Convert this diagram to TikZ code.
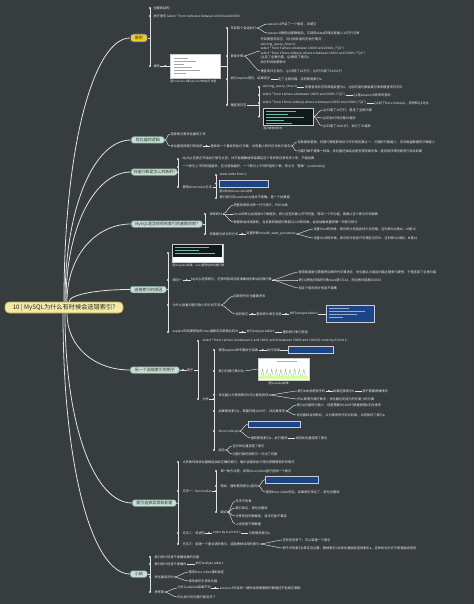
\documentclass[tikz,border=0pt]{standalone}
\usepackage{fontspec}
\setmainfont{Noto Sans CJK SC}
\usetikzlibrary{positioning,calc}

\definecolor{sfondo}{RGB}{55,60,62}
\definecolor{lineacol}{RGB}{226,226,226}
\definecolor{testo}{RGB}{236,236,236}
\definecolor{radfill}{RGB}{244,234,166}
\definecolor{radbordo}{RGB}{190,172,88}
\definecolor{giallo}{RGB}{242,208,22}
\definecolor{selblu}{RGB}{50,80,196}
\definecolor{ramofill}{RGB}{198,222,212}
\definecolor{ramobordo}{RGB}{118,158,144}
\definecolor{immblu}{RGB}{28,68,136}
\definecolor{immscura}{RGB}{14,26,28}
\definecolor{codice}{RGB}{110,190,170}

\newcommand{\conpunto}[2]{\draw[filo] (#1.east) -- (#2.west);
  \fill[lineacol] ($(#1.east)!.5!(#2.west)$) circle (1.1pt);}
\newcommand{\contratto}[2]{\draw[filo] (#1.east) -- (#2.west);}
\newcommand{\graffa}[2]{\foreach \n in {#2}
  \draw[filo] (#1.east) .. controls +(3.5,0) and +(-3.5,0) .. (\n.west);}
\newcommand{\spina}[3]{\draw[filo] (#1.east) -- (#2);
  \foreach \n in {#3} {\draw[filo] (#2) -- (#2 |- \n.west);
    \fill[lineacol] (#2 |- \n.west) circle (1.1pt);}}

\begin{document}
\begin{tikzpicture}[x=1pt, y=-1pt,
    radice/.style={draw=radbordo, fill=radfill, line width=0.6pt, rounded corners=4pt,
      minimum width=118pt, minimum height=11pt, inner sep=0pt, text=black!85,
      font=\fontsize{6.2}{7}\selectfont},
    ramo/.style={anchor=west, draw=ramobordo, fill=ramofill, line width=0.5pt,
      rounded corners=2.5pt, minimum height=6.5pt, inner xsep=2pt, inner ysep=0.5pt,
      text=black!80, font=\fontsize{4}{4.6}\selectfont},
    foglia/.style={anchor=west, inner sep=0.3pt, text=testo, font=\fontsize{3.2}{3.8}\selectfont},
    didasc/.style={foglia, font=\fontsize{2.8}{3.2}\selectfont},
    blocco/.style={foglia, align=left, font=\fontsize{3.2}{4.5}\selectfont},
    imm/.style={anchor=west, draw=white!80!black, line width=0.3pt, inner sep=0pt},
    filo/.style={draw=lineacol, line width=0.45pt},
    tronco/.style={draw=lineacol, line width=0.8pt}]

\useasboundingbox (0,0) rectangle (474,604);
\fill[sfondo] (0,0) rectangle (474,604);

% Radice e rami
\node[radice] (R) at (64,307.5) {10 | MySQL为什么有时候会选错索引?};
\node[ramo, draw=selblu, fill=giallo, line width=0.9pt, minimum width=17pt, minimum height=8pt] (A) at (130,38) {案例};
\node[ramo, minimum width=33pt] (B) at (131,140) {优化器的逻辑};
\node[ramo, minimum width=45pt] (C) at (131,172) {扫描行数是怎么判断的?};
\node[ramo, minimum width=71pt] (D) at (131,224) {MySQL是怎样得到索引的基数的呢?};
\node[ramo, minimum width=36pt] (E) at (130,289.5) {选错索引的原因};
\node[ramo, minimum width=49pt] (F) at (130,370) {另一个选错索引的例子};
\node[ramo, minimum width=44pt] (G) at (132,503) {索引选择异常和处理};
\node[ramo, minimum width=17pt] (H) at (130,574) {小结};

\draw[tronco] (R.north) .. controls +(0,-160) and +(-35,0) .. (A.west);
\draw[tronco] ([xshift=1pt]R.north) .. controls +(0,-97) and +(-36,0) .. (B.west);
\draw[tronco] ([xshift=2pt]R.north) .. controls +(0,-77) and +(-35,0) .. (C.west);
\draw[tronco] ([xshift=3pt]R.north) .. controls +(0,-46) and +(-35,0) .. (D.west);
\draw[tronco] ([xshift=5pt]R.north) .. controls +(0,-7) and +(-33,0) .. (E.west);
\draw[tronco] ([xshift=3pt]R.south) .. controls +(0,34) and +(-35,0) .. (F.west);
\draw[tronco] ([xshift=1pt]R.south) .. controls +(0,114) and +(-37,0) .. (G.west);
\draw[tronco] ([xshift=-1pt]R.south) .. controls +(0,157) and +(-37,0) .. (H.west);

% Ramo A
\node[foglia] (A1) at (153,8) {创建表结构};
\node[foglia] (A2) at (153,16) {执行语句 select * from t where a between 10000 and 20000};
\node[foglia] (A3) at (153,66) {操作};
\coordinate (sA) at (150,38);
\spina{A}{sA}{A1,A2,A3}
\node[imm, fill=white, minimum width=50pt, minimum height=24pt] (A3i) at (170,66) {};
\foreach \k/\l in {4/14,7/22,10/10,13/18,16/26,19/12}
  \draw[black!35, line width=0.35pt] ($(A3i.north west)+(4,\k)$) -- +(\l,0);
\node[didasc] (A3c) at (170,81) {图1 session A和session B的执行流程};
\conpunto{A3}{A3i}

\node[foglia] (A4) at (230,28) {开启两个会话执行};
\node[foglia] (A5) at (230,56) {复现步骤};
\node[foglia] (A6) at (230,79) {执行explain语句，结果显示};
\node[foglia] (A7) at (230,105) {慢查询日志};
\coordinate (sA3) at (227,66);
\spina{A3i}{sA3}{A4,A5,A6,A7}

\node[foglia] (A4a) at (267,24) {session A开启了一个事务，未提交};
\node[foglia] (A4b) at (267,33) {session B删除全部数据后，又调用idata存储过程插入10万行记录};
\graffa{A4}{A4a,A4b}

\node[blocco] (A5a) at (260,51) {开启慢查询日志，对比两条语句的执行情况\\set long\_query\_time=0;\\select * from t where a between 10000 and 20000; /*Q1*/\\select * from t force index(a) where a between 10000 and 20000; /*Q2*/\\Q1走了全表扫描，Q2使用了索引a\\执行时间相差很大};
\node[foglia] (A5b) at (260,71) {慢查询日志显示，Q1扫描了10万行，Q2只扫描了10001行};
\graffa{A5}{A5a,A5b}

\node[foglia, right=7pt of A6] (A6a) {走了全表扫描，没有使用索引a};
\contratto{A6}{A6a}

\node[foglia] (A7a) at (262,87) {set long\_query\_time=0};
\node[foglia] (A7b) at (262,95) {select * from t where a between 10000 and 20000 /*Q1*/};
\node[foglia] (A7c) at (262,103) {select * from t force index(a) where a between 10000 and 20000 /*Q2*/};
\node[imm, fill=immscura, minimum width=50pt, minimum height=17pt] (A7d) at (263,116.5) {};
\foreach \k/\l in {3/30,6/22,9/38,12/18,15/26}
  \draw[codice, line width=0.4pt] ($(A7d.north west)+(3,\k)$) -- +(\l,0);
\node[didasc] (A7dc) at (263,128) {图2 慢查询日志};
\coordinate (sA7) at (259,105);
\spina{A7}{sA7}{A7a,A7b,A7c,A7d}
\node[foglia, right=7pt of A7a] (A7a2) {将慢查询日志的阈值设置为0，之后的语句都会被记录到慢查询日志中};
\node[foglia, right=7pt of A7b] (A7b2) {Q1是session B原来的查询};
\node[foglia, right=7pt of A7c] (A7c2) {Q2加了force index(a)，用来和Q1对比};
\contratto{A7a}{A7a2}
\contratto{A7b}{A7b2}
\contratto{A7c}{A7c2}
\node[foglia] (A7e) at (322,110) {Q1扫描了10万行，是走了全表扫描};
\node[foglia] (A7f) at (322,118) {Q1的执行时间是40毫秒};
\node[foglia] (A7g) at (322,126) {Q2扫描了10001行，执行了21毫秒};
\graffa{A7d}{A7e,A7f,A7g}

% Ramo B
\node[foglia] (B1) at (170,134) {选择索引是优化器的工作};
\node[foglia] (B2) at (170,146) {优化器选择索引的目的};
\graffa{B}{B1,B2}
\node[foglia, right=7pt of B2] (B2a) {是找到一个最优的执行方案，并用最小的代价去执行语句};
\conpunto{B2}{B2a}
\node[foglia] (B2b) at (297,142) {在数据库里面，扫描行数是影响执行代价的因素之一。扫描的行数越少，访问磁盘数据的次数越少};
\node[foglia] (B2c) at (297,151) {扫描行数不是唯一标准，优化器还会结合是否使用临时表、是否排序等因素进行综合判断};
\graffa{B2a}{B2b,B2c}

% Ramo C
\node[foglia] (C1) at (182,159) {MySQL在真正开始执行语句之前，并不能精确地知道满足这个条件的记录有多少条，只能估算};
\node[foglia] (C2) at (182,167) {一个索引上不同的值越多，区分度就越好。一个索引上不同的值的个数，称之为“基数”(cardinality)};
\node[foglia] (C3) at (182,187) {使用show index方法};
\coordinate (sC) at (178,172);
\spina{C}{sC}{C1,C2,C3}
\node[foglia] (C3a) at (219,175) {show index from t;};
\node[imm, fill=immblu, minimum width=49pt, minimum height=7pt] (C3b) at (219,183.5) {};
\node[didasc] (C3c) at (219,191) {图3 表t的show index 结果};
\node[foglia] (C3d) at (219,198) {索引统计的cardinality值并不准确，是一个估算值};
\coordinate (sC3) at (216,187);
\spina{C3}{sC3}{C3a,C3b,C3d}

% Ramo D
\node[foglia] (D1) at (209,214) {采样统计};
\node[foglia] (D2) at (209,234) {存储索引统计的方式};
\coordinate (sD) at (205,224);
\spina{D}{sD}{D1,D2}
\node[foglia] (D1a) at (233,205) {把整张表取出来一行行统计，代价太高};
\node[foglia] (D1b) at (233,214) {InnoDB默认会选择N个数据页，统计这些页面上的不同值，得到一个平均值，再乘以这个索引的页面数};
\node[foglia] (D1c) at (233,222) {数据表会持续更新，当变更的数据行数超过1/M的时候，会自动触发重新做一次索引统计};
\graffa{D1}{D1a,D1b,D1c}
\node[foglia, right=7pt of D2] (D2a) {设置参数innodb\_stats\_persistent};
\conpunto{D2}{D2a}
\node[foglia] (D2b) at (313,229) {设置为on的时候，表示统计信息会持久化存储。这时默认N是20，M是10};
\node[foglia] (D2c) at (313,238) {设置为off的时候，表示统计信息只存储在内存中。这时默认N是8，M是16};
\graffa{D2a}{D2b,D2c}

% Ramo E
\node[imm, fill=white, minimum width=51pt, minimum height=18pt] (E0) at (172,253) {};
\fill[immscura] ([shift={(1,1)}]E0.north west) rectangle ([shift={(-1,-5)}]E0.south east);
\foreach \k/\l in {3/34,6/24,9/40}
  \draw[codice, line width=0.4pt] ($(E0.north west)+(3,\k)$) -- +(\l,0);
\node[didasc] (E0c) at (172,265.5) {图4 explain结果，rows是预估的扫描行数};
\node[foglia] (E1) at (172,280) {原因一};
\node[foglia] (E2) at (172,305) {为什么放着扫描行数少的计划不用};
\node[foglia] (E3) at (172,332) {explain的结果预估的rows值跟实际差距比较大};
\coordinate (sE) at (168,289.5);
\spina{E}{sE}{E0,E1,E2,E3}
\node[foglia, right=8pt of E1] (E1a) {MySQL选错索引，还得归咎到没能准确地判断出扫描行数};
\conpunto{E1}{E1a}
\node[foglia] (E1b) at (298,272) {使用普通索引需要把回表的代价算进去，优化器认为直接扫描主键索引更快，于是选择了全表扫描};
\node[foglia] (E1c) at (298,280) {索引a预估扫描的行数rows是37116，而全表扫描是100015};
\node[foglia] (E1d) at (298,288) {但这个值的统计信息不准确};
\graffa{E1a}{E1b,E1c,E1d}
\node[foglia] (E2a) at (233,296) {回表的代价也要算进去};
\node[foglia] (E2b) at (235,314) {如何修正};
\graffa{E2}{E2a,E2b}
\node[foglia, right=7pt of E2b] (E2c) {重新统计索引信息};
\conpunto{E2b}{E2c}
\node[foglia, right=7pt of E2c] (E2d) {执行analyze table t};
\conpunto{E2c}{E2d}
\node[imm, fill=immblu, minimum width=48pt, minimum height=17pt, right=8pt of E2d] (E2e) {};
\foreach \k/\l in {3/20,6/36,9/28,12/14}
  \draw[white!55!immblu, line width=0.4pt] ($(E2e.north west)+(3,\k)$) -- +(\l,0);
\contratto{E2d}{E2e}
\node[foglia, right=7pt of E3] (E3a) {执行analyze table t};
\conpunto{E3}{E3a}
\node[foglia, right=7pt of E3a] (E3b) {重新统计索引信息};
\contratto{E3a}{E3b}

% Ramo F
\node[foglia, right=7pt of F] (F0) {例子};
\conpunto{F}{F0}
\node[foglia] (F1) at (202,341) {select * from t where (a between 1 and 1000) and (b between 50000 and 100000) order by b limit 1;};
\node[foglia] (F2) at (202,399) {分析};
\coordinate (sF) at (198,370);
\spina{F0}{sF}{F1,F2}
\node[foglia] (F2a) at (218,350) {使用explain命令看执行结果};
\node[foglia] (F2b) at (218,371) {索引扫描行数对比};
\node[foglia] (F2c) at (218,395) {优化器认为使用索引b可以避免排序};
\node[foglia] (F2d) at (218,411) {如果使用索引a，需要扫描1000行，并且要排序};
\node[foglia] (F2e) at (218,431) {force index(a)};
\node[foglia] (F2f) at (218,450) {结论};
\coordinate (sF2) at (214,399);
\spina{F2}{sF2}{F2a,F2b,F2c,F2d,F2e,F2f}
\fill[lineacol] (sF2) circle (1.1pt);

\node[foglia, right=8pt of F2a] (F2a1) {执行结果};
\conpunto{F2a}{F2a1}
\node[imm, fill=immblu, minimum width=45pt, minimum height=7pt, right=8pt of F2a1] (F2a2) {};
\contratto{F2a1}{F2a2}

\node[imm, fill=white, minimum width=51pt, minimum height=22pt] (F2b1) at (258,369) {};
\fill[green!45!yellow!35] ([shift={(1,-1)}]F2b1.south west) rectangle ([shift={(-1,-4)}]F2b1.south east);
\foreach \i in {0,...,9}
  \draw[green!40!black!50, line width=0.3pt] ($(F2b1.south west)+(3+\i*4.6,-4)$) -- +(1.5,-7) -- +(3,0);
\foreach \k/\l in {3/10,3/14}
  \draw[black!30, line width=0.3pt] ($(F2b1.north west)+(4+\l*1.5,\k)$) -- +(\l,0);
\contratto{F2b}{F2b1}
\node[didasc] (F2b1c) at (268,384) {图5 explain结果};

\node[foglia] (F2c1) at (297,391) {索引b本身是有序的};
\node[foglia] (F2c2) at (297,399) {所以即使扫描行数多，优化器也判定为代价更小的方案};
\graffa{F2c}{F2c1,F2c2}
\node[foglia, right=7pt of F2c1] (F2c1b) {如果选择索引b};
\conpunto{F2c1}{F2c1b}
\node[foglia, right=7pt of F2c1b] (F2c1c) {就不需要再做排序};
\contratto{F2c1b}{F2c1c}

\node[foglia] (F2d1) at (296,405) {索引a扫描的行数少，但是需要对1000行数据按照b字段排序};
\node[foglia] (F2d2) at (296,415) {优化器综合判断后，认为排序的代价比较高，从而放弃了索引a};
\graffa{F2d}{F2d1,F2d2}

\node[imm, fill=immblu, minimum width=52pt, minimum height=6pt] (F2e1) at (248,424) {};
\node[foglia] (F2e2) at (250,438) {强制使用索引a，执行更快};
\graffa{F2e}{F2e1,F2e2}
\node[foglia, right=7pt of F2e2] (F2e3) {说明优化器选错了索引};
\contratto{F2e2}{F2e3}

\node[foglia] (F2f1) at (232,446) {这次优化器选错了索引};
\node[foglia] (F2f2) at (232,454) {扫描行数的判断又一次出了问题};
\graffa{F2f}{F2f1,F2f2}

% Ramo G
\node[foglia] (G1) at (182,462) {大多数时候优化器都能找到正确的索引，偶尔会遇到执行得比预期慢很多的情况};
\node[foglia] (G2) at (182,491) {方法一：force index};
\node[foglia] (G3) at (182,533) {方法二：改语句};
\node[foglia] (G4) at (182,544) {方法三：新建一个更合适的索引，或者删掉误用的索引};
\coordinate (sG) at (178,503);
\spina{G}{sG}{G1,G2,G3,G4}
\node[foglia] (G2a) at (220,471) {第一种方法是，采用force index强行选择一个索引};
\node[foglia] (G2b) at (220,486) {例如：强制使用索引a查询};
\node[foglia] (G2c) at (220,512) {缺点};
\coordinate (sG2) at (216,491);
\spina{G2}{sG2}{G2a,G2b,G2c}
\fill[lineacol] (sG2) circle (1.1pt);
\node[imm, fill=immblu, minimum width=53pt, minimum height=7pt] (G2b1) at (265,479.5) {};
\node[foglia] (G2b2) at (265,492) {使用force index的话，如果索引改名了，语句也要改};
\graffa{G2b}{G2b1,G2b2}
\node[foglia] (G2c1) at (235,501) {写法不优美};
\node[foglia] (G2c2) at (235,508) {索引改名，语句也要改};
\node[foglia] (G2c3) at (235,516) {迁移到别的数据库，语法可能不兼容};
\node[foglia] (G2c4) at (235,524) {上线变更不够敏捷};
\graffa{G2c}{G2c1,G2c2,G2c3,G2c4}
\node[foglia, right=7pt of G3] (G3a) {order by b,a limit 1};
\conpunto{G3}{G3a}
\node[foglia, right=7pt of G3a] (G3b) {引导使用索引a};
\contratto{G3a}{G3b}
\node[foglia] (G4a) at (282,540) {在有些场景下，可以新建一个索引};
\node[foglia] (G4b) at (282,548) {例子中的索引b其实没必要，删掉索引b后优化器就能选择索引a，这种优化方式不是普遍适用的};
\graffa{G4}{G4a,G4b}

% Ramo H
\node[foglia] (H1) at (154,557) {索引统计信息不准确导致的问题};
\node[foglia] (H2) at (154,564) {索引统计信息不准确时};
\node[foglia] (H3) at (154,577) {优化器误判时};
\node[foglia] (H4) at (154,592) {思考题};
\coordinate (sH) at (150,574);
\spina{H}{sH}{H1,H2,H3,H4}
\node[foglia, right=8pt of H2] (H2a) {执行analyze table t};
\contratto{H2}{H2a}
\node[foglia] (H3a) at (188,572) {使用force index强制指定};
\node[foglia] (H3b) at (188,581) {修改语句引导优化器};
\graffa{H3}{H3a,H3b}
\node[foglia] (H4a) at (177,588) {为什么explain结果不对};
\node[foglia] (H4b) at (177,597) {所以统计的扫描行数变多了};
\graffa{H4}{H4a,H4b}
\node[foglia, right=8pt of H4a] (H4a1) {session A开启的一致性读导致删除的数据还不能真正删除};
\conpunto{H4a}{H4a1}
\end{tikzpicture}
\end{document}
